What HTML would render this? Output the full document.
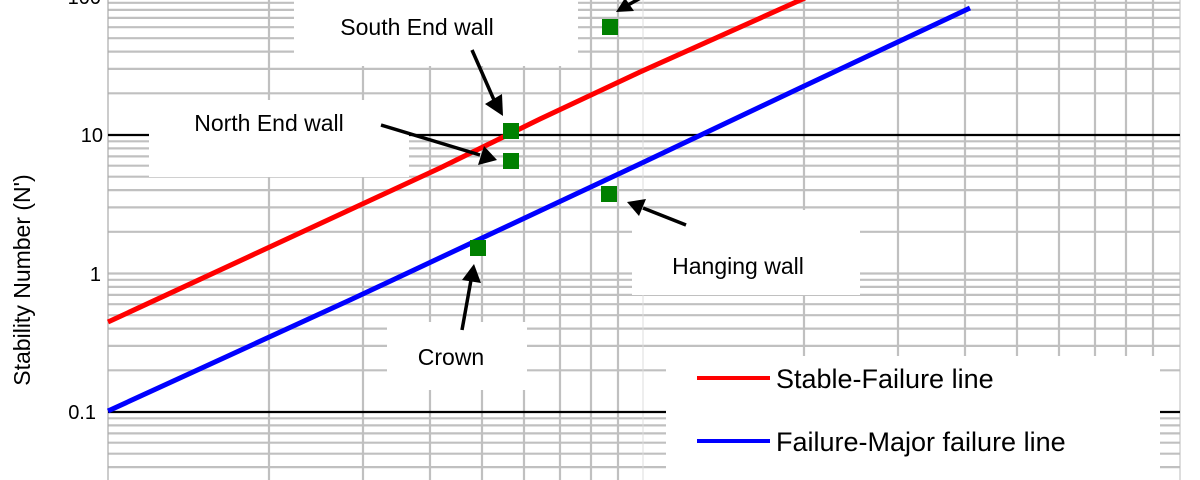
<!DOCTYPE html>
<html><head><meta charset="utf-8"><style>
html,body{margin:0;padding:0;background:#fff;}
svg{display:block;}
text{font-family:"Liberation Sans",sans-serif;}
</style></head><body>
<svg width="1200" height="480" viewBox="0 0 1200 480" xmlns="http://www.w3.org/2000/svg">
<rect width="1200" height="480" fill="#fff"/>
<g stroke="#c0c0c0" stroke-width="2.2">
<line x1="108" x2="1180" y1="93.3" y2="93.3"/><line x1="108" x2="1180" y1="68.9" y2="68.9"/><line x1="108" x2="1180" y1="51.6" y2="51.6"/><line x1="108" x2="1180" y1="38.2" y2="38.2"/><line x1="108" x2="1180" y1="27.2" y2="27.2"/><line x1="108" x2="1180" y1="17.9" y2="17.9"/><line x1="108" x2="1180" y1="9.9" y2="9.9"/><line x1="108" x2="1180" y1="2.8" y2="2.8"/>
<line x1="108" x2="1180" y1="231.8" y2="231.8"/><line x1="108" x2="1180" y1="207.4" y2="207.4"/><line x1="108" x2="1180" y1="190.1" y2="190.1"/><line x1="108" x2="1180" y1="176.7" y2="176.7"/><line x1="108" x2="1180" y1="165.7" y2="165.7"/><line x1="108" x2="1180" y1="156.4" y2="156.4"/><line x1="108" x2="1180" y1="148.4" y2="148.4"/><line x1="108" x2="1180" y1="141.3" y2="141.3"/>
<line x1="108" x2="1180" y1="370.3" y2="370.3"/><line x1="108" x2="1180" y1="345.9" y2="345.9"/><line x1="108" x2="1180" y1="328.6" y2="328.6"/><line x1="108" x2="1180" y1="315.2" y2="315.2"/><line x1="108" x2="1180" y1="304.2" y2="304.2"/><line x1="108" x2="1180" y1="294.9" y2="294.9"/><line x1="108" x2="1180" y1="286.9" y2="286.9"/><line x1="108" x2="1180" y1="279.8" y2="279.8"/>
<line x1="108" x2="1180" y1="273.5" y2="273.5"/>
<line x1="108" x2="1180" y1="418.3" y2="418.3"/><line x1="108" x2="1180" y1="425.4" y2="425.4"/><line x1="108" x2="1180" y1="433.4" y2="433.4"/><line x1="108" x2="1180" y1="442.7" y2="442.7"/><line x1="108" x2="1180" y1="453.7" y2="453.7"/><line x1="108" x2="1180" y1="467.1" y2="467.1"/>
<line x1="269" x2="269" y1="0" y2="480"/><line x1="363" x2="363" y1="0" y2="480"/><line x1="430" x2="430" y1="0" y2="480"/><line x1="482" x2="482" y1="0" y2="480"/><line x1="524" x2="524" y1="0" y2="480"/><line x1="560" x2="560" y1="0" y2="480"/><line x1="591" x2="591" y1="0" y2="480"/><line x1="618" x2="618" y1="0" y2="480"/>
<line x1="804" x2="804" y1="0" y2="480"/><line x1="898" x2="898" y1="0" y2="480"/><line x1="965" x2="965" y1="0" y2="480"/><line x1="1017" x2="1017" y1="0" y2="480"/><line x1="1059" x2="1059" y1="0" y2="480"/><line x1="1095" x2="1095" y1="0" y2="480"/><line x1="1126" x2="1126" y1="0" y2="480"/><line x1="1153" x2="1153" y1="0" y2="480"/>
</g>
<line x1="643" x2="643" y1="0" y2="480" stroke="#dcdcdc" stroke-width="1"/>
<line x1="1180" x2="1180" y1="0" y2="480" stroke="#bbb" stroke-width="1"/>
<line x1="108" x2="108" y1="0" y2="480" stroke="#aaa" stroke-width="1.2"/>
<line x1="108" x2="1180" y1="135" y2="135" stroke="#000" stroke-width="2.2"/>
<line x1="108" x2="1180" y1="412" y2="412" stroke="#000" stroke-width="2.2"/>

<g fill="#fff">
<rect x="294" y="0" width="284" height="66"/>
<rect x="149" y="100" width="260" height="77"/>
<rect x="632" y="210" width="228" height="85"/>
<rect x="387" y="322" width="140" height="68"/>
<rect x="666" y="356" width="494" height="124"/>
</g>

<polyline points="108,322 440,168 540,119 640,72 805,-2" fill="none" stroke="#ff0000" stroke-width="5"/>
<polyline points="108,411 350,300 627,170 800,88 970,8" fill="none" stroke="#0000ff" stroke-width="5"/>

<g fill="#008000">
<rect x="602" y="19" width="16" height="16"/>
<rect x="503" y="123" width="16" height="16"/>
<rect x="503" y="153" width="16" height="16"/>
<rect x="601" y="186" width="16" height="16"/>
<rect x="470" y="240" width="16" height="16"/>
</g>

<g stroke="#000" stroke-width="3.5" fill="none">
<line x1="472" y1="50" x2="494" y2="100"/>
<line x1="381" y1="125" x2="480" y2="155"/>
<line x1="686" y1="225" x2="643" y2="208"/>
<line x1="462" y1="330" x2="471" y2="280"/>
<line x1="655" y1="-10" x2="628" y2="5"/>
</g>
<g fill="#000">
<polygon points="503,116 485,104 502,94"/>
<polygon points="497,160 478,165 484,146"/>
<polygon points="627,202 646,199 639,216"/>
<polygon points="474,264 481,283 462,280"/>
<polygon points="616,12 625,-2 634,11"/>
</g>

<g font-size="23" fill="#000" text-anchor="middle">
<text x="417" y="35">South End wall</text>
<text x="269" y="131">North End wall</text>
<text x="738" y="274">Hanging wall</text>
<text x="451" y="365">Crown</text>
</g>

<line x1="697" x2="770" y1="378" y2="378" stroke="#ff0000" stroke-width="4"/>
<line x1="697" x2="770" y1="441" y2="441" stroke="#0000ff" stroke-width="4"/>
<g font-size="27" fill="#000">
<text x="776" y="388">Stable-Failure line</text>
<text x="776" y="451">Failure-Major failure line</text>
</g>

<g font-size="20" fill="#000" text-anchor="end">
<text x="101" y="4">100</text>
<text x="103" y="142">10</text>
<text x="101" y="281">1</text>
<text x="96" y="419">0.1</text>
</g>
<text transform="translate(30,280) rotate(-90)" font-size="23" text-anchor="middle" fill="#000">Stability Number (N')</text>
</svg>
</body></html>
